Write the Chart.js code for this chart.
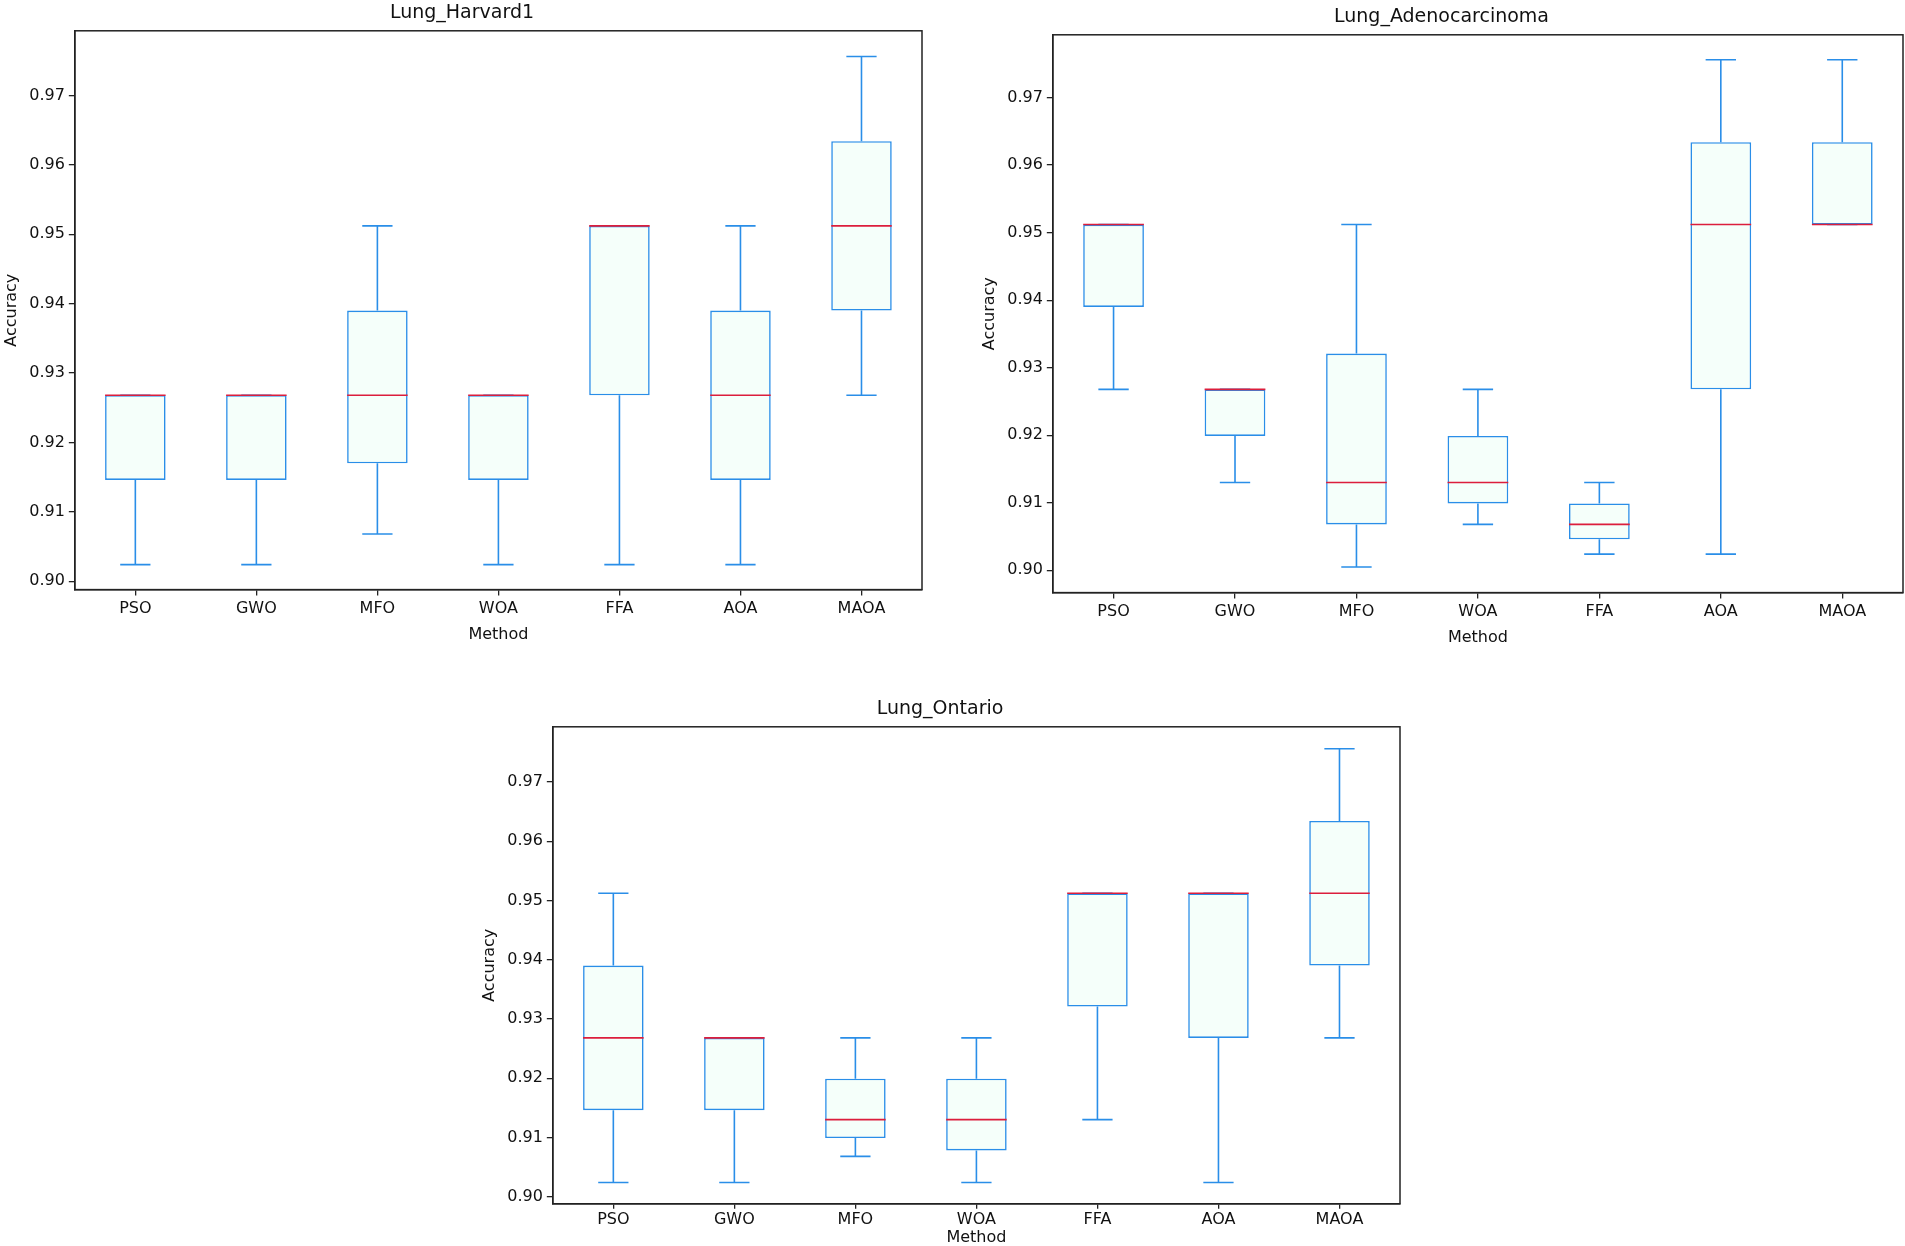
<!DOCTYPE html>
<html>
<head>
<meta charset="utf-8">
<script src="https://cdn.jsdelivr.net/npm/chart.js@4.4.1/dist/chart.umd.min.js"></script>
<style>
  body { margin: 0; background: #fff; width: 1905px; height: 1246px; position: relative; overflow: hidden; }
  .box { position: absolute; }
</style>
</head>
<body>
<div class="box" style="left:0px;top:0px;width:935px;height:650px"><canvas id="c1" width="935" height="650"></canvas></div>
<div class="box" style="left:975px;top:0px;width:930px;height:650px"><canvas id="c2" width="930" height="650"></canvas></div>
<div class="box" style="left:470px;top:690px;width:940px;height:556px"><canvas id="c3" width="940" height="556"></canvas></div>
<script>
const methods = ["PSO", "GWO", "MFO", "WOA", "FFA", "AOA", "MAOA"];
const yTicks = [0.90, 0.91, 0.92, 0.93, 0.94, 0.95, 0.96, 0.97];

// Lung_Harvard1
const harvardLow = [0.9024, 0.9024, 0.9068, 0.9024, 0.9024, 0.9024, 0.9268];
const harvardQ1 = [0.9146, 0.9146, 0.9170, 0.9146, 0.9268, 0.9146, 0.9390];
const harvardMed = [0.9268, 0.9268, 0.9268, 0.9268, 0.9512, 0.9268, 0.9512];
const harvardQ3 = [0.9268, 0.9268, 0.9390, 0.9268, 0.9512, 0.9390, 0.9634];
const harvardHigh = [0.9268, 0.9268, 0.9512, 0.9268, 0.9512, 0.9512, 0.9756];

// Lung_Adenocarcinoma
const adenoLow = [0.9268, 0.9130, 0.9005, 0.9068, 0.9024, 0.9024, 0.9512];
const adenoQ1 = [0.9390, 0.9199, 0.9068, 0.9099, 0.9046, 0.9268, 0.9512];
const adenoMed = [0.9512, 0.9268, 0.9130, 0.9130, 0.9068, 0.9512, 0.9512];
const adenoQ3 = [0.9512, 0.9268, 0.9321, 0.9199, 0.9099, 0.9634, 0.9634];
const adenoHigh = [0.9512, 0.9268, 0.9512, 0.9268, 0.9130, 0.9756, 0.9756];

// Lung_Ontario
const ontarioLow = [0.9024, 0.9024, 0.9068, 0.9024, 0.9130, 0.9024, 0.9268];
const ontarioQ1 = [0.9146, 0.9146, 0.9099, 0.9078, 0.9321, 0.9268, 0.9390];
const ontarioMed = [0.9268, 0.9268, 0.9130, 0.9130, 0.9512, 0.9512, 0.9512];
const ontarioQ3 = [0.9390, 0.9268, 0.9199, 0.9199, 0.9512, 0.9512, 0.9634];
const ontarioHigh = [0.9512, 0.9268, 0.9268, 0.9268, 0.9512, 0.9512, 0.9756];

const BLUE = "#2a8ee8";
const RED = "#dc1e3c";
const FILL = "#f5fffa";
const AXIS = "#222222";
const FONT = "'DejaVu Sans', sans-serif";

// whiskers, caps, medians and the frame, drawn through the chart's own scales
const boxExtras = {
  id: "boxExtras",
  afterDatasetsDraw(chart, args, opts) {
    const { ctx, chartArea, scales } = chart;
    const x = scales.x, y = scales.y;
    const half = x.width / methods.length * 0.125;
    ctx.save();
    ctx.lineWidth = 1.6;
    for (let i = 0; i < methods.length; i++) {
      const cx = x.getPixelForValue(i);
      const pl = y.getPixelForValue(opts.low[i]);
      const p1 = y.getPixelForValue(opts.q1[i]);
      const p3 = y.getPixelForValue(opts.q3[i]);
      const ph = y.getPixelForValue(opts.high[i]);
      ctx.strokeStyle = BLUE;
      ctx.beginPath();
      ctx.moveTo(cx, pl); ctx.lineTo(cx, p1);
      ctx.moveTo(cx, p3); ctx.lineTo(cx, ph);
      ctx.moveTo(cx - half, pl); ctx.lineTo(cx + half, pl);
      ctx.moveTo(cx - half, ph); ctx.lineTo(cx + half, ph);
      ctx.stroke();
      const pm = y.getPixelForValue(opts.med[i]);
      const bw = x.width / methods.length * 0.25;
      ctx.strokeStyle = RED;
      ctx.beginPath();
      ctx.moveTo(cx - bw, pm); ctx.lineTo(cx + bw, pm);
      ctx.stroke();
    }
    ctx.strokeStyle = AXIS;
    ctx.lineWidth = 1.5;
    ctx.strokeRect(chartArea.left, chartArea.top, chartArea.right - chartArea.left, chartArea.bottom - chartArea.top);
    ctx.restore();
  }
};

function makeBoxChart(id, title, low, q1, med, q3, high, yMin, yMax, pad, tight) {
  new Chart(document.getElementById(id), {
    type: "bar",
    data: {
      labels: methods,
      datasets: [{
        data: q1.map((v, i) => [v, q3[i]]),
        backgroundColor: FILL,
        borderColor: BLUE,
        borderWidth: 1.6,
        borderSkipped: false,
        barPercentage: 0.5,
        categoryPercentage: 1.0
      }]
    },
    options: {
      responsive: false,
      animation: false,
      devicePixelRatio: 1,
      layout: { padding: pad },
      plugins: {
        legend: { display: false },
        tooltip: { enabled: false },
        title: {
          display: true,
          text: title,
          color: "#111",
          font: { family: FONT, size: 19, weight: "normal" },
          padding: { top: 0, bottom: 6 }
        },
        boxExtras: { low: low, q1: q1, med: med, q3: q3, high: high }
      },
      scales: {
        x: {
          grid: { display: true, drawOnChartArea: false, offset: false, tickLength: tight ? 5 : 6, color: AXIS, lineWidth: 1.3 },
          border: { display: true, color: AXIS, width: 1.5 },
          ticks: { color: "#111", font: { family: FONT, size: 16 }, padding: tight ? 1 : 4, maxRotation: 0 },
          title: {
            display: true, text: "Method", color: "#111",
            font: { family: FONT, size: 16, lineHeight: tight ? 1.0 : 1.2 },
            padding: { top: tight ? 0 : 2, bottom: 0 }
          }
        },
        y: {
          min: yMin,
          max: yMax,
          afterBuildTicks: axis => { axis.ticks = yTicks.map(v => ({ value: v })); },
          grid: { display: true, drawOnChartArea: false, tickLength: 6, color: AXIS, lineWidth: 1.3 },
          border: { display: true, color: AXIS, width: 1.5 },
          ticks: { color: "#111", font: { family: FONT, size: 16 }, padding: 4, callback: v => v.toFixed(2) },
          title: { display: true, text: "Accuracy", color: "#111", font: { family: FONT, size: 16 }, padding: { top: 0, bottom: 4 } }
        }
      }
    },
    plugins: [boxExtras]
  });
}

makeBoxChart("c1", "Lung_Harvard1", harvardLow, harvardQ1, harvardMed, harvardQ3, harvardHigh, 0.8988, 0.9793,
  { left: 2, right: 13, top: 2, bottom: 6 }, false);
makeBoxChart("c2", "Lung_Adenocarcinoma", adenoLow, adenoQ1, adenoMed, adenoQ3, adenoHigh, 0.8967, 0.9793,
  { left: 5, right: 2, top: 6, bottom: 3 }, false);
makeBoxChart("c3", "Lung_Ontario", ontarioLow, ontarioQ1, ontarioMed, ontarioQ3, ontarioHigh, 0.8988, 0.9793,
  { left: 10, right: 10, top: 8, bottom: 0 }, true);
</script>
</body>
</html>
